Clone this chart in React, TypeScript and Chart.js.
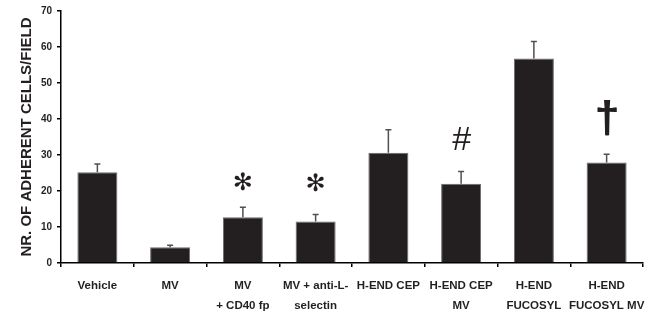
import React, { useEffect, useRef } from "react";
import { Chart, registerables } from "chart.js";

Chart.register(...registerables);

const categories: (string | string[])[] = [
  "Vehicle",
  "MV",
  ["MV", "+ CD40 fp"],
  ["MV + anti-L-", "selectin"],
  "H-END CEP",
  ["H-END CEP", "MV"],
  ["H-END", "FUCOSYL"],
  ["H-END", "FUCOSYL MV"],
];
const means = [25.2, 4.4, 12.7, 11.5, 30.6, 22.0, 56.8, 27.9];
const errorTops = [27.5, 4.9, 15.5, 13.5, 37.0, 25.4, 61.5, 30.2];
const markerSymbols = ["", "", "✻", "✻", "", "#", "", "†"];
const markerValues: (number | null)[] = [null, null, 22.1, 21.8, null, 33.9, null, 39.9];
const yTicks = [0, 10, 20, 30, 40, 50, 60, 70];
const yTitle = "NR. OF ADHERENT CELLS/FIELD";

const LABEL_FONT = "'Liberation Sans', Arial, sans-serif";

const errorBarPlugin = {
  id: "errorBarsAndMarkers",
  afterDatasetsDraw(chart: any) {
    const meta = chart.getDatasetMeta(0);
    const yScale = chart.scales.y;
    const ctx = chart.ctx as CanvasRenderingContext2D;
    ctx.save();
    ctx.strokeStyle = "#505050";
    ctx.lineWidth = 1.5;
    meta.data.forEach((bar: any, i: number) => {
      const x = bar.x;
      const yTop = yScale.getPixelForValue(errorTops[i]);
      ctx.beginPath();
      ctx.moveTo(x, bar.y);
      ctx.lineTo(x, yTop);
      ctx.moveTo(x - 3, yTop);
      ctx.lineTo(x + 3, yTop);
      ctx.stroke();
    });
    meta.data.forEach((bar: any, i: number) => {
      const sym = markerSymbols[i];
      const v = markerValues[i];
      if (!sym || v == null) return;
      const yc = yScale.getPixelForValue(v);
      ctx.fillStyle = "#231f20";
      ctx.textAlign = "center";
      ctx.textBaseline = "middle";
      if (sym === "✻") {
        ctx.font = "24px 'DejaVu Sans'";
        ctx.fillText(sym, bar.x, yc);
      } else if (sym === "#") {
        ctx.font = "italic 34px 'Liberation Sans'";
        ctx.fillText(sym, bar.x, yc);
      } else {
        ctx.font = "bold 44px 'Liberation Sans'";
        ctx.fillText(sym, bar.x, yc);
        ctx.fillText(sym, bar.x + 0.8, yc);
      }
    });
    ctx.restore();
  },
};

export default function App() {
  const canvasRef = useRef<HTMLCanvasElement | null>(null);

  useEffect(() => {
    document.body.style.margin = "0";
    const canvas = canvasRef.current;
    if (!canvas) return;
    const chart = new Chart(canvas, {
      type: "bar",
      data: {
        labels: categories as any,
        datasets: [
          {
            data: means,
            backgroundColor: "#231f20",
            borderColor: "#6a6a6a",
            borderWidth: 1,
            categoryPercentage: 1,
            barPercentage: 0.55,
          },
        ],
      },
      options: {
        animation: false,
        responsive: true,
        maintainAspectRatio: false,
        layout: { padding: { top: 9, right: 15, left: 0, bottom: 0 } },
        plugins: {
          legend: { display: false },
          tooltip: { enabled: false },
        },
        scales: {
          x: {
            offset: true,
            grid: {
              offset: true,
              drawOnChartArea: false,
              drawTicks: true,
              tickLength: 4,
              color: "#000",
              lineWidth: 1.5,
            },
            border: { display: true, color: "#000", width: 1.5 },
            ticks: {
              color: "#231f20",
              font: { family: LABEL_FONT, size: 11.5, weight: "bold", lineHeight: 1.75 },
              padding: 9,
              maxRotation: 0,
              minRotation: 0,
              autoSkip: false,
            },
            afterFit(scale: any) {
              scale.height = 57;
            },
          },
          y: {
            min: 0,
            max: 70,
            afterBuildTicks(scale: any) {
              scale.ticks = yTicks.map((v) => ({ value: v }));
            },
            grid: {
              drawOnChartArea: false,
              drawTicks: true,
              tickLength: 4,
              color: "#000",
              lineWidth: 1.5,
            },
            border: { display: true, color: "#000", width: 1.5 },
            ticks: {
              color: "#231f20",
              font: { family: "'Liberation Sans', Arial, sans-serif", size: 10, weight: "bold" },
              padding: 5,
            },
            title: {
              display: true,
              text: yTitle,
              color: "#231f20",
              font: { family: "'Liberation Sans', Arial, sans-serif", size: 15, weight: "bold" },
              padding: { top: 18, bottom: 0 },
            },
            afterFit(scale: any) {
              scale.width = 61;
            },
          },
        },
      },
      plugins: [errorBarPlugin],
    });
    return () => chart.destroy();
  }, []);

  return (
    <div style={{ width: 658, height: 320, position: "relative" }}>
      <canvas ref={canvasRef} />
    </div>
  );
}
